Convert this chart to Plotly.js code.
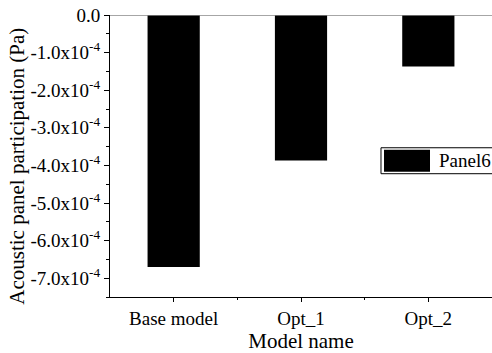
<!DOCTYPE html>
<html>
<head>
<meta charset="utf-8">
<script src="https://cdn.plot.ly/plotly-3.0.1.min.js"></script>
<style>
  html, body { margin: 0; padding: 0; background: #fff; }
  #chart { width: 492px; height: 353px; }
</style>
</head>
<body>
<div id="chart"></div>
<script>
// Acoustic panel participation per model variant
const models = ["Base model", "Opt_1", "Opt_2"];
const panel6 = [-6.70e-4, -3.87e-4, -1.37e-4];
const seriesName = "Panel6";
const yTitle = "Acoustic panel participation (Pa)";
const xTitle = "Model name";

const yTickVals = [0, -1e-4, -2e-4, -3e-4, -4e-4, -5e-4, -6e-4, -7e-4];
const yTickText = ["0.0", "-1.0x10<sup>-4</sup>", "-2.0x10<sup>-4</sup>", "-3.0x10<sup>-4</sup>",
                   "-4.0x10<sup>-4</sup>", "-5.0x10<sup>-4</sup>", "-6.0x10<sup>-4</sup>", "-7.0x10<sup>-4</sup>"];

const xIdx = models.map((_, i) => i);
const serif = "'Liberation Serif', 'Times New Roman', serif";

const trace = {
  type: "bar",
  x: xIdx,
  y: panel6,
  name: seriesName,
  width: 0.41,
  marker: { color: "#000000", line: { width: 0 } },
  showlegend: false
};

// boxed key in the right half of the plot
const key = { x0: 0.7094, x1: 1.02, y0: 0.4372, y1: 0.5292 };
const swatch = { x0: 0.7173, x1: 0.8377, y0: 0.4442, y1: 0.5222 };

const layout = {
  width: 492,
  height: 353,
  margin: { l: 110, r: 0, t: 15, b: 55.5 },
  paper_bgcolor: "#ffffff",
  plot_bgcolor: "#ffffff",
  font: { family: serif, size: 19, color: "#000" },
  showlegend: false,
  xaxis: {
    range: [-0.5, 2.5],
    tickmode: "array",
    tickvals: xIdx,
    ticktext: models,
    ticks: "outside", ticklen: 4, tickwidth: 1, tickcolor: "#000",
    minor: { tickvals: [0.5, 1.5], ticks: "outside", ticklen: 2, tickcolor: "#000" },
    showline: true, linecolor: "#000", linewidth: 1,
    showgrid: false, zeroline: false,
    tickfont: { family: serif, size: 19 },
    title: { text: xTitle, font: { family: serif, size: 21 }, standoff: 9 }
  },
  yaxis: {
    range: [-7.5e-4, 0],
    tickmode: "array",
    tickvals: yTickVals,
    ticktext: yTickText,
    ticks: "outside", ticklen: 5, tickwidth: 1, tickcolor: "#000",
    minor: { dtick: 0.5e-4, tick0: 0, ticks: "outside", ticklen: 3, tickcolor: "#000" },
    showline: true, linecolor: "#000", linewidth: 1,
    showgrid: false, zeroline: false,
    tickfont: { family: serif, size: 19 }
  },
  shapes: [
    { type: "line", xref: "paper", yref: "y", x0: 0, x1: 1, y0: 0, y1: 0,
      line: { color: "#888888", width: 1.5 }, layer: "above" },
    { type: "rect", xref: "paper", yref: "paper", x0: key.x0, x1: key.x1, y0: key.y0, y1: key.y1,
      line: { color: "#000", width: 1 }, fillcolor: "#ffffff", layer: "above" },
    { type: "rect", xref: "paper", yref: "paper", x0: swatch.x0, x1: swatch.x1, y0: swatch.y0, y1: swatch.y1,
      line: { width: 0 }, fillcolor: "#000000", layer: "above" }
  ],
  annotations: [
    { xref: "paper", yref: "paper", x: 0.856, y: (key.y0 + key.y1) / 2,
      xanchor: "left", yanchor: "middle", showarrow: false,
      text: seriesName, font: { family: serif, size: 19, color: "#000" } },
    // vertical axis title, set a little below the plot's middle
    { xref: "paper", yref: "paper", x: -0.2435, y: 0.4655,
      xanchor: "center", yanchor: "middle", textangle: -90, showarrow: false,
      text: yTitle, font: { family: serif, size: 21, color: "#000" } }
  ]
};

Plotly.newPlot("chart", [trace], layout, { displayModeBar: false, staticPlot: true });
</script>
</body>
</html>
